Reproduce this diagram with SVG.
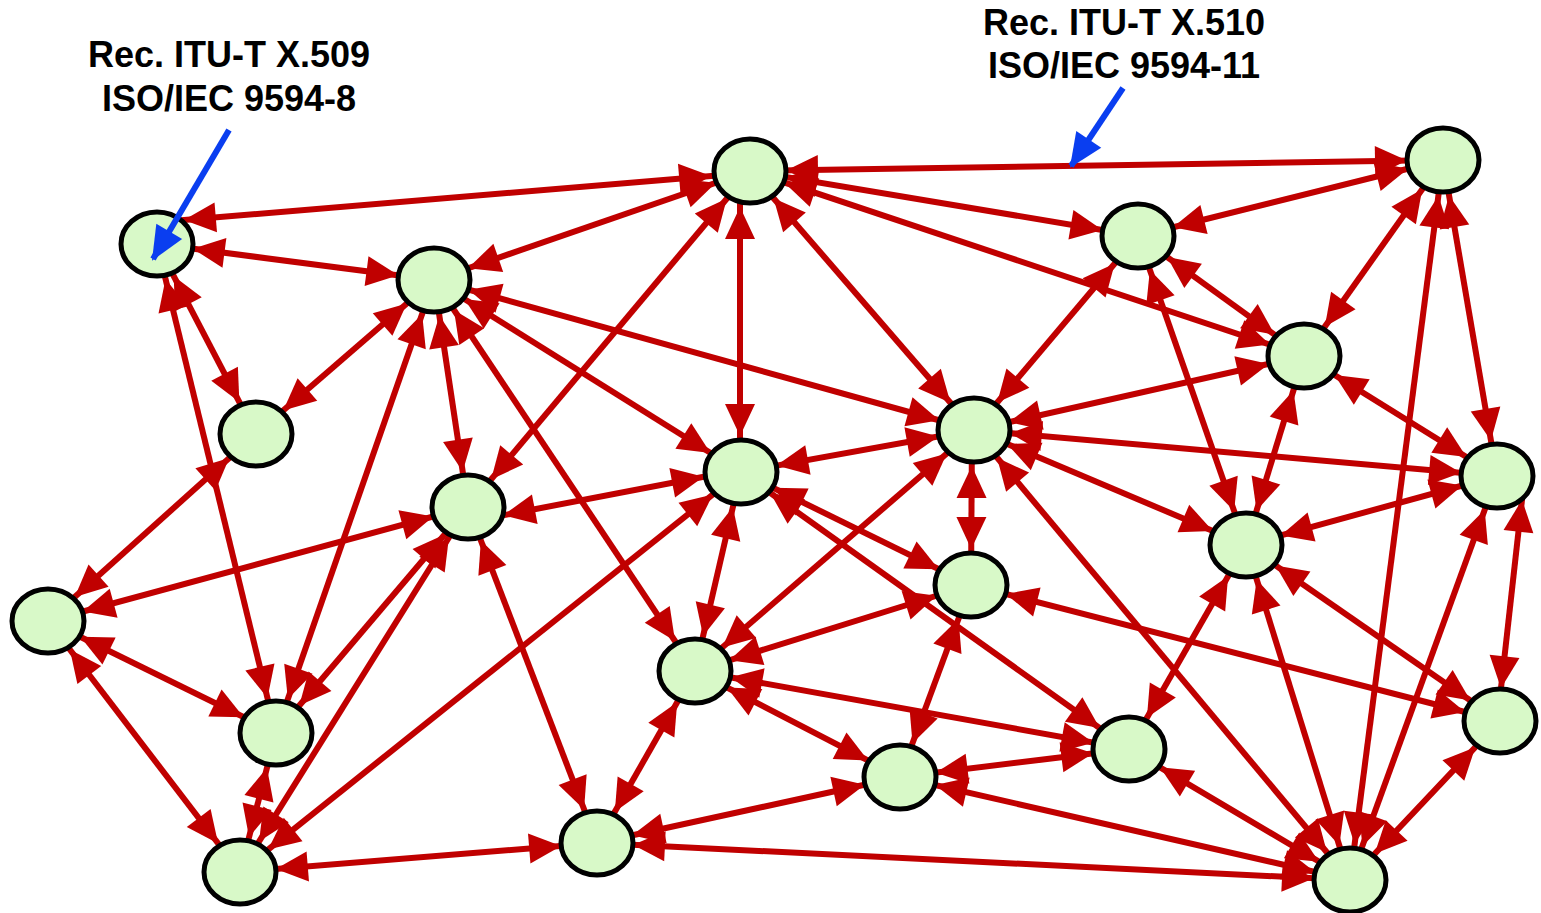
<svg xmlns="http://www.w3.org/2000/svg" width="1541" height="913" viewBox="0 0 1541 913">
  <style>
    .lbl { font-family: "Liberation Sans", Arial, sans-serif; font-weight: bold; font-size: 36px; fill: #000; text-anchor: middle; }
    .e { stroke: #c00000; stroke-width: 6; fill: none; marker-start: url(#aS); marker-end: url(#aE); }
    .ptr { stroke: #0a3ef0; stroke-width: 6; fill: none; marker-end: url(#aB); }
    .node ellipse { fill: #d8f9c8; stroke: #000; stroke-width: 5; }
  </style>
  <defs>
    <!-- arrowheads sit 36 units from the line end, i.e. on the node outline -->
    <marker id="aE" markerUnits="userSpaceOnUse" orient="auto" markerWidth="70" markerHeight="30" refX="68" refY="15" overflow="visible">
      <path d="M0,0 L32,15 L0,30 Z" fill="#c00000"/>
    </marker>
    <marker id="aS" markerUnits="userSpaceOnUse" orient="auto" markerWidth="70" markerHeight="30" refX="-36" refY="15" overflow="visible">
      <path d="M0,15 L32,0 L32,30 Z" fill="#c00000"/>
    </marker>
    <marker id="aB" markerUnits="userSpaceOnUse" orient="auto" markerWidth="34" markerHeight="30" refX="32" refY="15" overflow="visible">
      <path d="M0,0 L34,15 L0,30 Z" fill="#0a3ef0"/>
    </marker>
  </defs>

  <rect width="1541" height="913" fill="#fff"/>

  <!-- labels -->
  <text class="lbl" x="229" y="67">Rec. ITU-T X.509</text>
  <text class="lbl" x="229" y="111">ISO/IEC 9594-8</text>
  <text class="lbl" x="1124" y="35">Rec. ITU-T X.510</text>
  <text class="lbl" x="1124" y="78">ISO/IEC 9594-11</text>

  <g id="connectors">
    <line class="e" x1="148" y1="223" x2="747" y2="173"/>
    <line class="e" x1="157" y1="244" x2="434" y2="280"/>
    <line class="e" x1="157" y1="244" x2="256" y2="434"/>
    <line class="e" x1="157" y1="244" x2="276" y2="733"/>
    <line class="e" x1="434" y1="280" x2="750" y2="171"/>
    <line class="e" x1="434" y1="280" x2="256" y2="434"/>
    <line class="e" x1="434" y1="280" x2="468" y2="507"/>
    <line class="e" x1="434" y1="280" x2="276" y2="733"/>
    <line class="e" x1="434" y1="280" x2="695" y2="671"/>
    <line class="e" x1="434" y1="280" x2="741" y2="472"/>
    <line class="e" x1="434" y1="280" x2="974" y2="430"/>
    <line class="e" x1="750" y1="171" x2="468" y2="507"/>
    <line class="e" x1="740" y1="171" x2="740" y2="472"/>
    <line class="e" x1="750" y1="171" x2="974" y2="430"/>
    <line class="e" x1="750" y1="171" x2="1443" y2="160"/>
    <line class="e" x1="750" y1="171" x2="1138" y2="236"/>
    <line class="e" x1="750" y1="171" x2="1304" y2="356"/>
    <line class="e" x1="256" y1="434" x2="48" y2="621"/>
    <line class="e" x1="468" y1="507" x2="48" y2="621"/>
    <line class="e" x1="468" y1="522" x2="739" y2="470"/>
    <line class="e" x1="468" y1="507" x2="276" y2="733"/>
    <line class="e" x1="468" y1="507" x2="240" y2="872"/>
    <line class="e" x1="468" y1="507" x2="597" y2="843"/>
    <line class="e" x1="741" y1="472" x2="974" y2="430"/>
    <line class="e" x1="741" y1="472" x2="240" y2="872"/>
    <line class="e" x1="741" y1="472" x2="695" y2="671"/>
    <line class="e" x1="741" y1="472" x2="971" y2="585"/>
    <line class="e" x1="741" y1="472" x2="1129" y2="749"/>
    <line class="e" x1="974" y1="430" x2="1138" y2="236"/>
    <line class="e" x1="974" y1="430" x2="1304" y2="356"/>
    <line class="e" x1="974" y1="430" x2="1497" y2="476"/>
    <line class="e" x1="974" y1="430" x2="1246" y2="545"/>
    <line class="e" x1="972" y1="430" x2="971" y2="585"/>
    <line class="e" x1="974" y1="430" x2="695" y2="671"/>
    <line class="e" x1="974" y1="430" x2="1350" y2="880"/>
    <line class="e" x1="1138" y1="236" x2="1443" y2="160"/>
    <line class="e" x1="1138" y1="236" x2="1304" y2="356"/>
    <line class="e" x1="1138" y1="236" x2="1246" y2="545"/>
    <line class="e" x1="1443" y1="160" x2="1304" y2="356"/>
    <line class="e" x1="1443" y1="160" x2="1350" y2="880"/>
    <line class="e" x1="1443" y1="160" x2="1497" y2="476"/>
    <line class="e" x1="1304" y1="356" x2="1246" y2="545"/>
    <line class="e" x1="1304" y1="356" x2="1497" y2="476"/>
    <line class="e" x1="1497" y1="476" x2="1246" y2="545"/>
    <line class="e" x1="1526" y1="464" x2="1497" y2="724"/>
    <line class="e" x1="1497" y1="476" x2="1350" y2="880"/>
    <line class="e" x1="1246" y1="545" x2="1500" y2="721"/>
    <line class="e" x1="1246" y1="545" x2="1129" y2="749"/>
    <line class="e" x1="1246" y1="545" x2="1350" y2="880"/>
    <line class="e" x1="971" y1="585" x2="695" y2="671"/>
    <line class="e" x1="971" y1="585" x2="1500" y2="721"/>
    <line class="e" x1="971" y1="585" x2="900" y2="777"/>
    <line class="e" x1="695" y1="671" x2="1129" y2="749"/>
    <line class="e" x1="695" y1="671" x2="900" y2="777"/>
    <line class="e" x1="695" y1="671" x2="597" y2="843"/>
    <line class="e" x1="48" y1="621" x2="276" y2="733"/>
    <line class="e" x1="48" y1="621" x2="240" y2="872"/>
    <line class="e" x1="276" y1="733" x2="240" y2="872"/>
    <line class="e" x1="240" y1="872" x2="597" y2="843"/>
    <line class="e" x1="597" y1="843" x2="900" y2="777"/>
    <line class="e" x1="597" y1="843" x2="1350" y2="880"/>
    <line class="e" x1="900" y1="777" x2="1129" y2="749"/>
    <line class="e" x1="900" y1="777" x2="1350" y2="880"/>
    <line class="e" x1="1129" y1="749" x2="1350" y2="880"/>
    <line class="e" x1="1500" y1="721" x2="1350" y2="880"/>
  </g>

  <g id="nodes">
    <g id="n1" class="node"><ellipse cx="157" cy="244" rx="36" ry="32"/></g>
    <g id="n2" class="node"><ellipse cx="434" cy="280" rx="36" ry="32"/></g>
    <g id="n3" class="node"><ellipse cx="750" cy="171" rx="36" ry="32"/></g>
    <g id="n4" class="node"><ellipse cx="1443" cy="160" rx="36" ry="32"/></g>
    <g id="n5" class="node"><ellipse cx="1138" cy="236" rx="36" ry="32"/></g>
    <g id="n6" class="node"><ellipse cx="256" cy="434" rx="36" ry="32"/></g>
    <g id="n7" class="node"><ellipse cx="1304" cy="356" rx="36" ry="32"/></g>
    <g id="n8" class="node"><ellipse cx="974" cy="430" rx="36" ry="32"/></g>
    <g id="n9" class="node"><ellipse cx="741" cy="472" rx="36" ry="32"/></g>
    <g id="n10" class="node"><ellipse cx="468" cy="507" rx="36" ry="32"/></g>
    <g id="n11" class="node"><ellipse cx="1497" cy="476" rx="36" ry="32"/></g>
    <g id="n12" class="node"><ellipse cx="1246" cy="545" rx="36" ry="32"/></g>
    <g id="n13" class="node"><ellipse cx="48" cy="621" rx="36" ry="32"/></g>
    <g id="n14" class="node"><ellipse cx="971" cy="585" rx="36" ry="32"/></g>
    <g id="n15" class="node"><ellipse cx="695" cy="671" rx="36" ry="32"/></g>
    <g id="n16" class="node"><ellipse cx="276" cy="733" rx="36" ry="32"/></g>
    <g id="n17" class="node"><ellipse cx="1500" cy="721" rx="36" ry="32"/></g>
    <g id="n18" class="node"><ellipse cx="1129" cy="749" rx="36" ry="32"/></g>
    <g id="n19" class="node"><ellipse cx="900" cy="777" rx="36" ry="32"/></g>
    <g id="n20" class="node"><ellipse cx="240" cy="872" rx="36" ry="32"/></g>
    <g id="n21" class="node"><ellipse cx="597" cy="843" rx="36" ry="32"/></g>
    <g id="n22" class="node"><ellipse cx="1350" cy="880" rx="36" ry="32"/></g>
  </g>

  <!-- pointers from the captions -->
  <g id="pointers">
    <line class="ptr" x1="229" y1="130" x2="153" y2="259"/>
    <line class="ptr" x1="1123" y1="88" x2="1071" y2="166"/>
  </g>
</svg>
